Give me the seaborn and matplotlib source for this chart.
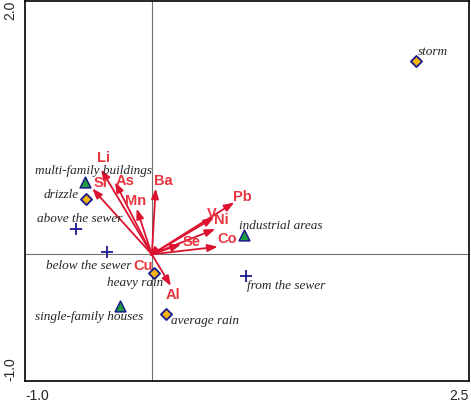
import matplotlib
matplotlib.use("Agg")
import matplotlib.pyplot as plt
import seaborn as sns
import pandas as pd

# sample scores (from the biplot)
sample_names = ["storm", "drizzle", "heavy rain", "average rain",
                "multi-family buildings", "single-family houses", "industrial areas",
                "above the sewer", "below the sewer", "from the sewer"]
sample_x = [2.08, -0.52, 0.02, 0.11, -0.53, -0.25, 0.73, -0.60, -0.35, 0.74]
sample_y = [1.53, 0.44, -0.15, -0.47, 0.57, -0.41, 0.15, 0.20, 0.02, -0.17]
sample_group = ["rain", "rain", "rain", "rain",
                "land", "land", "land",
                "sewer", "sewer", "sewer"]
# label offsets in data units (dx, dy) and alignment
label_pos = [(0.02, 0.07, "left"), (-0.06, 0.03, "right"), (0.07, -0.08, "right"),
             (0.04, -0.06, "left"), (0.53, 0.09, "right"), (0.18, -0.085, "right"),
             (-0.04, 0.07, "left"), (0.37, 0.08, "right"), (0.19, -0.11, "right"),
             (0.01, -0.08, "left")]

# element vectors
elem_names = ["Li", "Sr", "As", "Mn", "Ba", "Pb", "V", "Ni", "Co", "Se", "Cu", "Al"]
elem_x = [-0.40, -0.47, -0.29, -0.12, 0.03, 0.65, 0.49, 0.50, 0.52, 0.23, -0.02, 0.15]
elem_y = [0.67, 0.52, 0.57, 0.36, 0.52, 0.41, 0.29, 0.20, 0.06, 0.08, -0.02, -0.25]
elem_lab_x = [-0.38, -0.40, -0.21, -0.13, 0.09, 0.71, 0.47, 0.55, 0.59, 0.31, -0.07, 0.17]
elem_lab_y = [0.76, 0.56, 0.58, 0.42, 0.58, 0.45, 0.32, 0.27, 0.12, 0.10, -0.09, -0.32]

df = pd.DataFrame({"x": sample_x, "y": sample_y, "group": sample_group})

sns.set_style("white")
plt.rcParams["font.family"] = ["Liberation Sans", "DejaVu Sans"]

fig = plt.figure(figsize=(4.71, 4.03), dpi=100)
ax = fig.add_axes([25 / 471, 22 / 403, 444 / 471, 380 / 403])

ax.axhline(0, color="#707070", lw=0.8, zorder=1)
ax.axvline(0, color="#707070", lw=0.8, zorder=1)

arrow_col = "#dc1230"
for n, x, y, lx, ly in zip(elem_names, elem_x, elem_y, elem_lab_x, elem_lab_y):
    ax.annotate("", xy=(x, y), xytext=(0, 0),
                arrowprops=dict(arrowstyle="-|>,head_length=0.6,head_width=0.22",
                                color=arrow_col, lw=1.3, shrinkA=0, shrinkB=0),
                zorder=3)
    ax.text(lx, ly, n, color="#e8353f", fontsize=10.5, fontweight="bold",
            ha="center", va="center", zorder=4)

# rain = diamonds, land use = triangles, sewer position = crosses
sns.scatterplot(data=df[df["group"] == "rain"], x="x", y="y", marker="D",
                color="#f5b50a", s=32, edgecolor="#1a1a8c", linewidth=1.3,
                ax=ax, zorder=5, legend=False)
sns.scatterplot(data=df[df["group"] == "land"], x="x", y="y", marker="^",
                color="#1e9e3c", s=60, edgecolor="#1a1a8c", linewidth=1.1,
                ax=ax, zorder=5, legend=False)
sns.scatterplot(data=df[df["group"] == "sewer"], x="x", y="y", marker="+",
                color="#1a1a8c", s=70, linewidth=1.3, ax=ax, zorder=5, legend=False)

for n, x, y, (dx, dy, ha) in zip(sample_names, sample_x, sample_y, label_pos):
    ax.text(x + dx, y + dy, n, ha=ha, va="center", fontsize=9.5,
            style="italic", family="Liberation Serif", zorder=6)

ax.set_xlim(-1.0, 2.5)
ax.set_ylim(-1.0, 2.0)
xt = [-1.0, -0.5, 0, 0.5, 1.0, 1.5, 2.0, 2.5]
yt = [-1.0, -0.5, 0, 0.5, 1.0, 1.5, 2.0]
ax.set_xticks(xt)
ax.set_xticklabels(["-1.0", "", "", "", "", "", "", "2.5"], fontsize=10)
ax.set_yticks(yt)
ax.set_yticklabels(["-1.0", "", "", "", "", "", "2.0"], fontsize=10, rotation=90)
xl = ax.get_xticklabels()
xl[0].set_ha("left")
xl[-1].set_ha("right")
yl = ax.get_yticklabels()
yl[0].set_va("bottom")
yl[-1].set_va("top")
ax.tick_params(direction="out", length=4, width=1, color="black", pad=1.5)
ax.set_xlabel("")
ax.set_ylabel("")
for s in ax.spines.values():
    s.set_color("black")
    s.set_linewidth(1.2)

fig.savefig("out.png", dpi=100)
